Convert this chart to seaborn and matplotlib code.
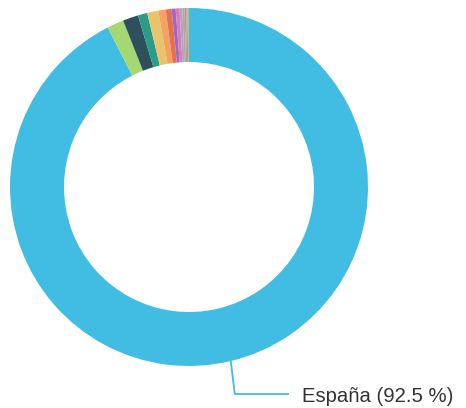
import numpy as np
import seaborn as sns
import matplotlib.pyplot as plt

sns.set_theme(style="white")
plt.rcParams['font.family'] = ['Liberation Sans', 'DejaVu Sans']

# slices, clockwise from 12 o'clock
countries = ["España", "Otro 1", "Otro 2", "Otro 3", "Otro 4", "Otro 5", "Otro 6",
             "Otro 7", "Otro 8", "Otro 9", "Otro 10", "Otro 11", "Otro 12", "Otro 13"]
shares = [92.5, 1.5, 1.4, 0.85, 1.0, 0.67, 0.53, 0.36, 0.35, 0.25, 0.2, 0.15, 0.12, 0.12]
colors = ["#41bde3", "#a5d873", "#2f4f5c", "#2a9d8a", "#e9c46a", "#f4a261", "#e76f51",
          "#9b6bc4", "#e07bb0", "#b39ddb", "#8fbc8f", "#f08080", "#a0a0a0", "#c8b878"]

fig = plt.figure(figsize=(4.66, 4.08), dpi=100)
ax = fig.add_axes([0, 0, 1, 1])

cx, cy, r = 189, 221, 179
wedges, _ = ax.pie(shares, colors=colors, startangle=90, counterclock=False,
                   center=(cx, cy), radius=r, frame=True,
                   wedgeprops=dict(width=54, edgecolor='none'))
ax.set_xlim(0, 466)
ax.set_ylim(0, 408)
ax.set_aspect('equal')
ax.axis('off')

# leader line for the big slice
w = wedges[0]
mid = np.deg2rad((w.theta1 + w.theta2) / 2)
x0, y0 = cx + r * np.cos(mid), cy + r * np.sin(mid)
ax.plot([x0, x0 + 4, 289], [y0, 14, 14], color=colors[0], lw=1.3, solid_capstyle='butt')
ax.text(302, 11, f"{countries[0]} ({shares[0]} %)", fontsize=14.6, color="#333333",
        va='center', ha='left')

fig.savefig("out.png", dpi=100)
